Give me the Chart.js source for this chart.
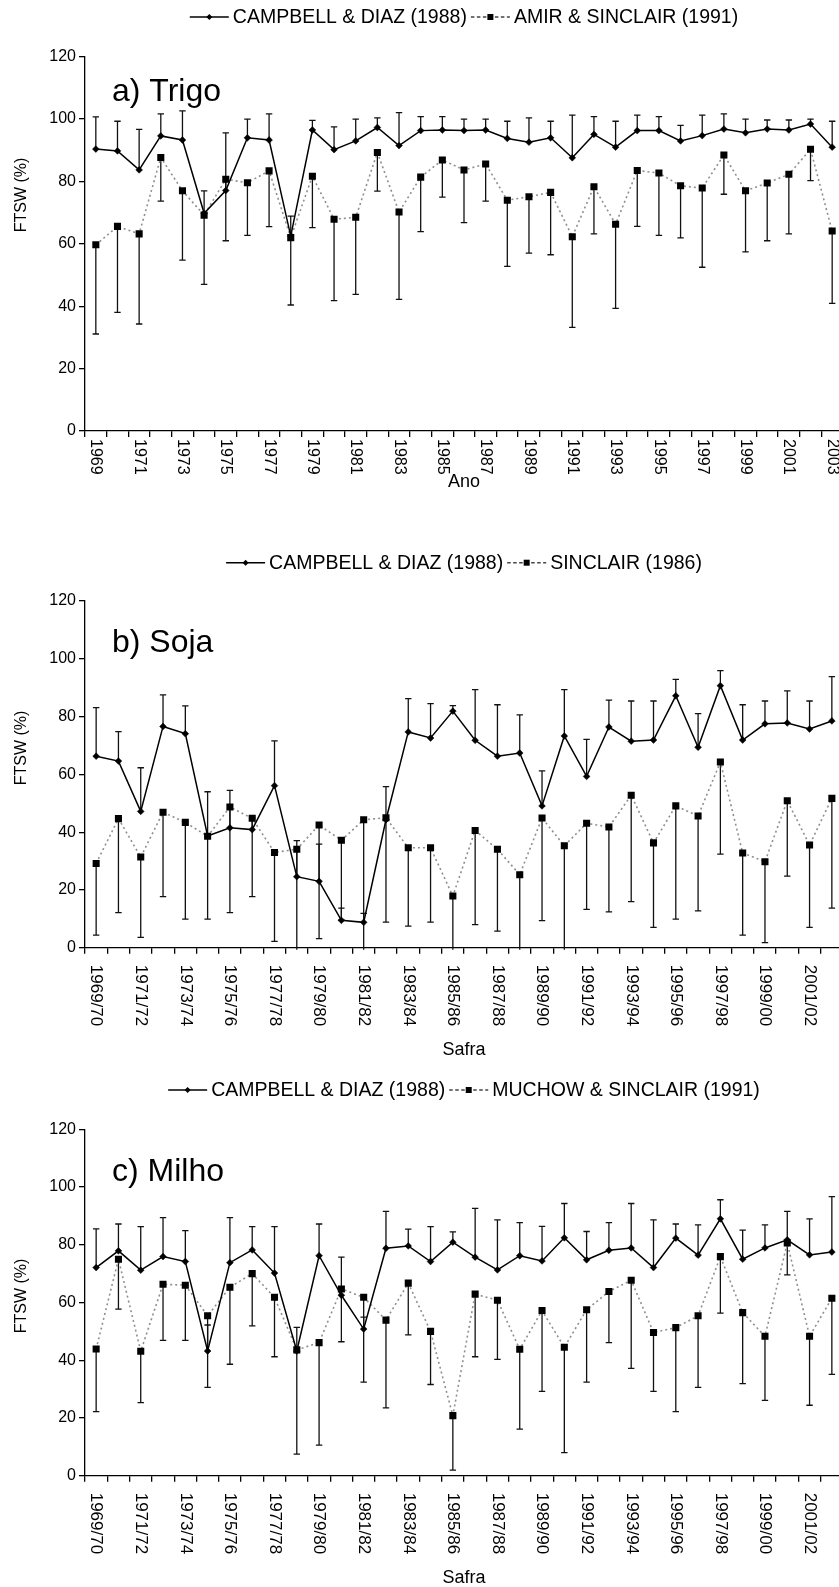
<!DOCTYPE html>
<html>
<head>
<meta charset="utf-8">
<script src="https://cdn.jsdelivr.net/npm/chart.js@4.4.1/dist/chart.umd.min.js"></script>
<style>
  html, body { margin: 0; padding: 0; background: #fff; overflow: hidden; width: 839px; height: 1587px; }
  canvas { position: absolute; left: 0; }
</style>
</head>
<body>
<canvas id="cTrigo" width="850" height="500" style="top:0px"></canvas>
<canvas id="cSoja" width="850" height="562" style="top:500px"></canvas>
<canvas id="cMilho" width="850" height="525" style="top:1062px"></canvas>
<script>
// ---- categories ----
const trigoYears = ['1969','1970','1971','1972','1973','1974','1975','1976','1977','1978',
  '1979','1980','1981','1982','1983','1984','1985','1986','1987','1988','1989','1990',
  '1991','1992','1993','1994','1995','1996','1997','1998','1999','2000','2001','2002','2003'];
const safras = ['1969/70','1970/71','1971/72','1972/73','1973/74','1974/75','1975/76','1976/77',
  '1977/78','1978/79','1979/80','1980/81','1981/82','1982/83','1983/84','1984/85','1985/86',
  '1986/87','1987/88','1988/89','1989/90','1990/91','1991/92','1992/93','1993/94','1994/95',
  '1995/96','1996/97','1997/98','1998/99','1999/00','2000/01','2001/02','2002/03'];

// ---- a) Trigo: FTSW (%) and standard deviations ----
const trigoCampbell = [90.4,89.8,83.7,94.6,93.3,69.8,77.1,94.0,93.3,62.5,96.5,90.2,93.0,97.3,91.5,96.3,96.5,
  96.3,96.5,93.8,92.6,94.0,87.6,95.1,91.0,96.3,96.3,93.0,94.7,96.8,95.6,96.8,96.5,98.4,91.0];
const trigoCampbellSD = [10.3,9.5,13.0,7.1,9.3,7.2,18.5,6.0,8.4,6.4,3.1,7.3,7.0,3.1,10.6,4.5,4.3,
  3.7,3.5,5.5,7.8,5.3,13.7,5.7,8.3,5.0,4.5,5.0,6.6,4.9,4.4,2.9,3.2,1.6,8.3];
const trigoAmir = [59.7,65.6,63.2,87.7,77.0,69.2,80.7,79.6,83.4,62.0,81.7,67.9,68.5,89.3,70.2,81.4,86.9,
  83.7,85.6,74.0,75.1,76.5,62.3,78.3,66.3,83.5,82.7,78.6,77.9,88.5,77.0,79.5,82.3,90.3,64.1];
const trigoAmirSD = [28.6,27.6,28.9,14.0,22.2,22.2,19.7,16.9,17.9,21.6,16.5,26.1,24.7,12.4,28.0,17.5,11.9,
  16.9,11.9,21.2,18.1,20.0,29.1,15.1,27.0,17.9,20.0,16.7,25.4,12.6,19.6,18.5,19.1,10.0,23.2];

// ---- b) Soja ----
const sojaCampbell = [66.3,64.6,47.2,76.6,74.1,38.7,41.5,40.9,56.1,24.6,23.0,9.5,8.8,44.3,74.7,72.6,81.9,
  71.8,66.3,67.4,49.1,73.3,59.3,76.4,71.5,71.9,87.2,69.4,90.7,71.9,77.5,77.8,75.7,78.5];
const sojaCampbellSD = [16.8,10.2,15.1,10.9,9.6,15.3,13.0,4.0,15.5,12.5,12.9,4.2,3.1,11.5,11.5,11.9,1.9,
  17.5,17.8,13.2,12.1,16.0,12.8,9.3,13.9,13.5,5.7,11.6,5.2,12.2,7.9,11.1,9.7,15.3];
const sojaSinclair = [29.2,44.7,31.4,46.9,43.4,38.6,48.7,44.8,33.0,34.1,42.5,37.2,44.3,45.0,34.6,34.6,17.9,
  40.6,34.1,25.3,44.9,35.3,43.1,41.8,52.8,36.3,49.1,45.6,64.3,32.8,29.8,50.9,35.6,51.7];
const sojaSinclairSD = [24.8,32.5,27.8,29.2,33.5,28.7,36.5,27.1,30.8,40.0,39.3,27.6,48.0,36.1,27.1,25.7,25.0,
  32.6,28.3,30.0,35.5,40.0,29.8,29.4,36.8,29.2,39.2,32.8,31.9,28.4,28.0,26.1,28.5,38.0];

// ---- c) Milho ----
const milhoCampbell = [72.1,77.9,71.2,75.9,74.2,43.2,73.8,78.2,70.2,43.2,76.2,62.5,50.8,78.8,79.6,74.2,80.9,
  75.7,71.3,76.2,74.4,82.4,74.8,78.1,78.9,72.1,82.3,76.4,89.0,75.0,78.9,81.7,76.5,77.5];
const milhoCampbellSD = [13.4,9.3,15.1,13.5,10.7,9.0,15.6,8.1,16.1,8.2,11.0,13.2,4.1,12.8,5.8,12.1,3.6,
  16.9,17.3,11.5,12.0,11.9,9.8,9.6,15.4,16.5,4.9,10.5,6.6,10.1,8.0,9.9,12.5,19.2];
const milhoMuchow = [43.9,75.0,43.1,66.3,66.0,55.4,65.3,70.0,61.8,43.6,46.1,64.7,61.8,53.9,66.7,50.0,20.8,
  62.9,60.8,43.8,57.2,44.5,57.5,63.8,67.7,49.6,51.3,55.4,75.9,56.5,48.3,80.6,48.3,61.5];
const milhoMuchowSD = [21.7,17.3,17.8,19.4,19.1,24.8,26.7,18.1,20.6,36.1,35.5,18.3,29.4,30.4,17.9,18.4,18.9,
  21.7,20.5,27.7,28.0,36.5,25.1,17.7,30.5,20.4,29.1,24.8,19.6,24.6,22.2,11.0,23.9,26.4];

const FONT = '"Liberation Sans", Arial, Helvetica, sans-serif';

// Vertical error bars: first series points up (+SD), second series points down (-SD)
const errorBars = {
  id: 'errorBars',
  beforeDatasetsDraw(chart) {
    const { ctx, chartArea: a, scales: { x, y } } = chart;
    ctx.save();
    ctx.beginPath();
    ctx.rect(a.left, a.top - 4, a.right - a.left, a.bottom - a.top + 6);
    ctx.clip();
    ctx.strokeStyle = '#111';
    ctx.lineWidth = 1.3;
    chart.data.datasets.forEach(ds => {
      const sd = ds.errUp || ds.errDown;
      const sign = ds.errUp ? 1 : -1;
      ds.data.forEach((v, i) => {
        const px = x.getPixelForValue(i);
        const end = v + sign * sd[i];
        const y0 = y.getPixelForValue(v);
        const y1 = y.getPixelForValue(end);
        ctx.beginPath();
        ctx.moveTo(px, y0);
        ctx.lineTo(px, y1);
        if (end >= 0) { ctx.moveTo(px - 3.2, y1); ctx.lineTo(px + 3.2, y1); }
        ctx.stroke();
      });
    });
    ctx.restore();
  }
};

function marker(ctx, style, cx, cy, r) {
  ctx.beginPath();
  if (style === 'rectRot') {
    ctx.moveTo(cx, cy - r); ctx.lineTo(cx + r, cy); ctx.lineTo(cx, cy + r); ctx.lineTo(cx - r, cy);
  } else {
    ctx.rect(cx - r, cy - r, 2 * r, 2 * r);
  }
  ctx.closePath();
  ctx.fillStyle = '#000';
  ctx.fill();
}

// Legend, panel caption, rotated category labels and axis titles
const decor = {
  id: 'decor',
  afterDraw(chart, args, o) {
    const { ctx, chartArea: a, scales: { x } } = chart;
    const mid = (a.left + a.right) / 2;
    ctx.save();
    ctx.fillStyle = '#000';

    // legend
    ctx.font = '19.5px ' + FONT;
    ctx.textBaseline = 'middle';
    ctx.textAlign = 'left';
    const ds = chart.data.datasets;
    const sampleW = 39, gap = 4;
    const widths = ds.map(d => ctx.measureText(d.label).width);
    const total = ds.length * (sampleW + gap) + widths.reduce((s, w) => s + w, 0) + gap * (ds.length - 1);
    let lx = mid - total / 2;
    ds.forEach((d, i) => {
      ctx.save();
      ctx.strokeStyle = i === 0 ? '#000' : '#444';
      ctx.lineWidth = 1.4;
      ctx.setLineDash(i === 0 ? [] : [3.5, 2.5]);
      ctx.beginPath(); ctx.moveTo(lx, o.legendY); ctx.lineTo(lx + sampleW, o.legendY); ctx.stroke();
      ctx.restore();
      marker(ctx, d.pointStyle, lx + sampleW / 2, o.legendY, 3);
      ctx.fillStyle = '#000';
      ctx.fillText(d.label, lx + sampleW + gap, o.legendY + 1);
      lx += sampleW + gap + widths[i] + gap;
    });

    // panel caption
    ctx.font = '32px ' + FONT;
    ctx.textBaseline = 'alphabetic';
    ctx.fillText(o.caption, 112, o.captionY);

    // category labels, every other one, reading downwards
    ctx.font = o.tickSize + 'px ' + FONT;
    ctx.textBaseline = 'middle';
    ctx.textAlign = 'left';
    chart.data.labels.forEach((lab, i) => {
      if (i % 2 !== 0) return;
      ctx.save();
      ctx.translate(x.getPixelForValue(i), a.bottom + o.labelGap);
      ctx.rotate(Math.PI / 2);
      ctx.fillText(lab, 0, 0);
      ctx.restore();
    });

    // x title
    ctx.font = '18px ' + FONT;
    ctx.textAlign = 'center';
    ctx.fillText(o.xTitle, mid, o.xTitleY);

    // y title
    ctx.save();
    ctx.font = '16px ' + FONT;
    ctx.translate(22, o.yTitleY);
    ctx.rotate(-Math.PI / 2);
    ctx.fillText('FTSW (%)', 0, 0);
    ctx.restore();

    ctx.restore();
  }
};

function panel(id, p) {
  const cv = document.getElementById(id);
  const H = cv.height;
  const t = p.pageTop;
  const areaTop = p.areaTop - t, areaBottom = p.areaBottom - t;
  return new Chart(cv.getContext('2d'), {
    type: 'line',
    data: {
      labels: p.labels,
      datasets: [
        { label: p.names[0], data: p.first, errUp: p.firstSD,
          borderColor: '#000', borderWidth: 1.5, tension: 0,
          pointStyle: 'rectRot', pointRadius: 3.4, pointBackgroundColor: '#000',
          pointBorderColor: '#000', pointBorderWidth: 0.5 },
        { label: p.names[1], data: p.second, errDown: p.secondSD,
          borderColor: '#8f8f8f', borderWidth: 1.6, borderDash: [2, 3], tension: 0,
          pointStyle: 'rect', pointRadius: 5, pointBackgroundColor: '#000',
          pointBorderColor: '#000', pointBorderWidth: 0 }
      ]
    },
    options: {
      responsive: false,
      animation: false,
      devicePixelRatio: 1,
      events: [],
      layout: { padding: { top: areaTop, right: 7, bottom: 0, left: 0 } },
      plugins: {
        legend: { display: false },
        tooltip: { enabled: false },
        decor: {
          legendY: p.legendY - t, caption: p.caption, captionY: p.captionY - t,
          tickSize: p.tickSize, labelGap: p.labelGap,
          xTitle: p.xTitle, xTitleY: p.xTitleY - t, yTitleY: p.yTitleY - t
        }
      },
      scales: {
        x: {
          type: 'category',
          offset: true,
          grid: { offset: true, drawOnChartArea: false, drawTicks: true, tickLength: 6, color: '#000', lineWidth: 1.3 },
          border: { display: true, color: '#000', width: 1.3 },
          ticks: { display: false },
          afterFit(s) { s.height = H - areaBottom; }
        },
        y: {
          min: 0, max: 120,
          ticks: { stepSize: 20, color: '#000', font: { family: FONT, size: 16 }, padding: 3 },
          grid: { drawOnChartArea: false, drawTicks: true, tickLength: 6, color: '#000', lineWidth: 1.3 },
          border: { display: true, color: '#000', width: 1.3 },
          afterFit(s) { s.width = 85; }
        }
      }
    },
    plugins: [errorBars, decor]
  });
}

panel('cTrigo', {
  pageTop: 0, areaTop: 56.7, areaBottom: 431,
  labels: trigoYears, names: ['CAMPBELL & DIAZ (1988)', 'AMIR & SINCLAIR (1991)'],
  first: trigoCampbell, firstSD: trigoCampbellSD, second: trigoAmir, secondSD: trigoAmirSD,
  legendY: 17, caption: 'a) Trigo', captionY: 100.7, tickSize: 16, labelGap: 8,
  xTitle: 'Ano', xTitleY: 482, yTitleY: 195
});

panel('cSoja', {
  pageTop: 500, areaTop: 601, areaBottom: 947.8,
  labels: safras, names: ['CAMPBELL & DIAZ (1988)', 'SINCLAIR (1986)'],
  first: sojaCampbell, firstSD: sojaCampbellSD, second: sojaSinclair, secondSD: sojaSinclairSD,
  legendY: 562.7, caption: 'b) Soja', captionY: 652.3, tickSize: 17, labelGap: 17,
  xTitle: 'Safra', xTitleY: 1050, yTitleY: 748
});

panel('cMilho', {
  pageTop: 1062, areaTop: 1129.3, areaBottom: 1475.7,
  labels: safras, names: ['CAMPBELL & DIAZ (1988)', 'MUCHOW & SINCLAIR (1991)'],
  first: milhoCampbell, firstSD: milhoCampbellSD, second: milhoMuchow, secondSD: milhoMuchowSD,
  legendY: 1090, caption: 'c) Milho', captionY: 1180.7, tickSize: 17, labelGap: 17,
  xTitle: 'Safra', xTitleY: 1578, yTitleY: 1296
});
</script>
</body>
</html>
